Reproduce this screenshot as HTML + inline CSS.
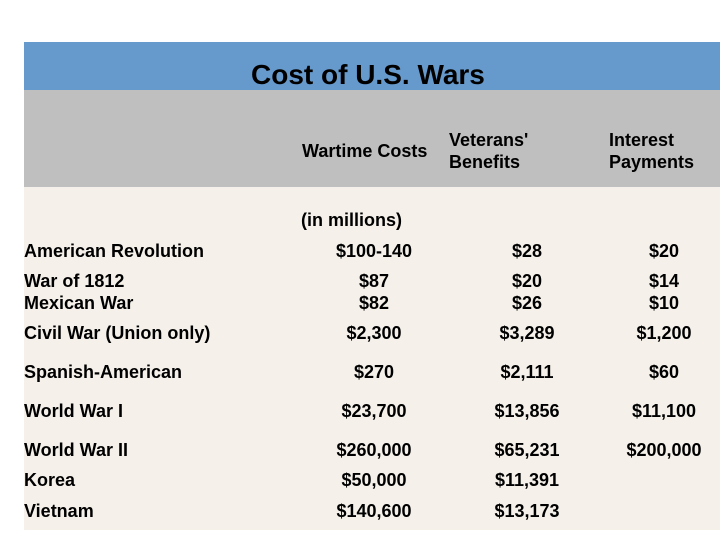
<!DOCTYPE html>
<html><head><meta charset="utf-8"><style>
body{margin:0;width:720px;height:540px;background:#fff;position:relative;overflow:hidden;font-family:"Liberation Sans",sans-serif;font-weight:bold;color:#000}
.b{position:absolute}
.t{position:absolute;font-size:18px;line-height:22px;white-space:nowrap;transform:translateY(-50%)}
.c{text-align:center;width:160px;margin-left:-80px}
</style></head><body>
<div class="b" style="left:24px;top:42px;width:696px;height:48px;background:#6699cc"></div>
<div class="b" style="left:24px;top:90px;width:696px;height:97px;background:#bfbfbf"></div>
<div class="b" style="left:24px;top:187px;width:696px;height:343px;background:#f5f1ea"></div>
<div class="t" style="left:251px;top:75px;font-size:28px;line-height:32px">Cost of U.S. Wars</div>
<div class="t" style="left:302px;top:151px">Wartime Costs</div>
<div class="t" style="left:449px;top:151px">Veterans'<br>Benefits</div>
<div class="t" style="left:609px;top:151px">Interest<br>Payments</div>
<div class="t" style="left:301px;top:220px">(in millions)</div>
<div id="rows"></div>
<script>
const wars=["American Revolution","War of 1812<br>Mexican War","Civil War (Union only)","Spanish-American","World War I","World War II","Korea","Vietnam"];
const wartime=["$100-140","$87<br>$82","$2,300","$270","$23,700","$260,000","$50,000","$140,600"];
const veterans=["$28","$20<br>$26","$3,289","$2,111","$13,856","$65,231","$11,391","$13,173"];
const interest=["$20","$14<br>$10","$1,200","$60","$11,100","$200,000","",""];
const rowY=[251,292,333,372,411,450,480,511];
const root=document.getElementById('rows');
function add(html,x,y,center,name){
  const d=document.createElement('div');
  d.className='t'+(center?' c':'');
  d.style.left=x+'px';d.style.top=y+'px';d.innerHTML=html;
  
  
  root.appendChild(d);
}
wars.forEach((w,i)=>{
  add(w,24,rowY[i],false,'war-label');
  add(wartime[i],374,rowY[i],true,'wartime-cost');
  add(veterans[i],527,rowY[i],true,'veterans-benefit');
  if(interest[i])add(interest[i],664,rowY[i],true,'interest-payment');
});
</script>
</body></html>
